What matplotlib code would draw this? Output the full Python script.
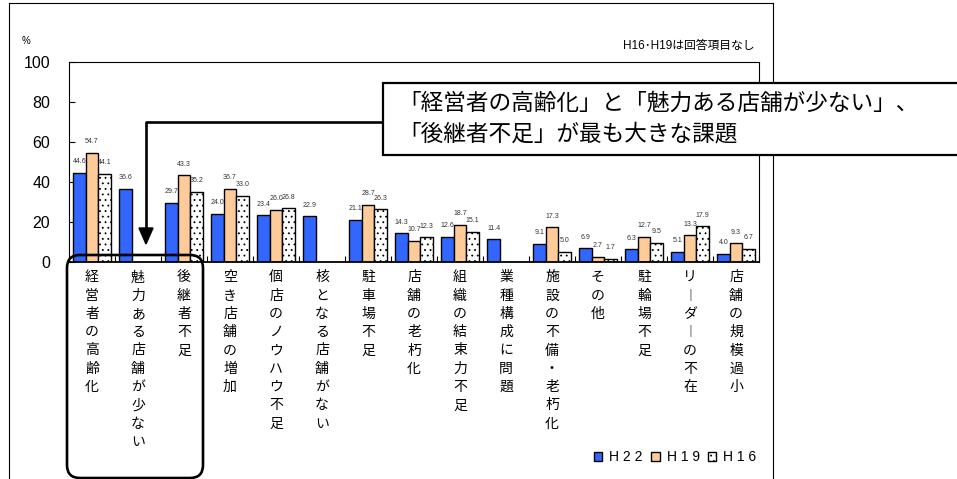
import numpy as np
import matplotlib
matplotlib.use("Agg")
import matplotlib.pyplot as plt
from matplotlib.patches import FancyBboxPatch, Rectangle, Polygon
from matplotlib.lines import Line2D
from matplotlib.transforms import IdentityTransform

plt.rcParams['font.family'] = ['Liberation Sans', 'Noto Sans CJK JP', 'DejaVu Sans']
plt.rcParams['hatch.linewidth'] = 0.6

categories = ["経営者の高齢化", "魅力ある店舗が少ない", "後継者不足", "空き店舗の増加",
              "個店のノウハウ不足", "核となる店舗がない", "駐車場不足", "店舗の老朽化",
              "組織の結束力不足", "業種構成に問題", "施設の不備・老朽化", "その他",
              "駐輪場不足", "リーダーの不在", "店舗の規模過小"]
h22 = [44.6, 36.6, 29.7, 24.0, 23.4, 22.9, 21.1, 14.3, 12.6, 11.4, 9.1, 6.9, 6.3, 5.1, 4.0]
h19 = [54.7, np.nan, 43.3, 36.7, 26.0, np.nan, 28.7, 10.7, 18.7, np.nan, 17.3, 2.7, 12.7, 13.3, 9.3]
h16 = [44.1, np.nan, 35.2, 33.0, 26.8, np.nan, 26.3, 12.3, 15.1, np.nan, 5.0, 1.7, 9.5, 17.9, 6.7]
series_labels = ["H 2 2", "H 1 9", "H 1 6"]
yticks = [0, 20, 40, 60, 80, 100]

W, H = 957, 479
fig = plt.figure(figsize=(W / 100, H / 100), dpi=100)

def fx(x):
    return x / W

def fy(y):
    return 1 - y / H

# plot area: x 69..759, y 62..262 (pixels from top)
ax = fig.add_axes([fx(69), fy(262), (759 - 69) / W, (262 - 62) / H])

x = np.arange(len(categories))
bw = 0.27
styles = [
    dict(color="#3366FF", hatch=None),
    dict(color="#FFCC99", hatch=None),
    dict(color="white", hatch="..."),
]
bars = []
for i, (vals, st, lab) in enumerate(zip([h22, h19, h16], styles, series_labels)):
    b = ax.bar(x + (i - 1) * bw, vals, width=bw, color=st["color"], edgecolor="black",
               hatch=st["hatch"], linewidth=1.0, label=lab, zorder=2)
    bars.append(b)
    for xi, v in zip(x + (i - 1) * bw, vals):
        if not np.isnan(v):
            ax.annotate(f"{v:.1f}", (xi, v), xytext=(0, 8), textcoords="offset points",
                        ha="center", va="center", fontsize=5, color="#333333")

ax.set_xlim(-0.5, len(categories) - 0.5)
ax.set_ylim(0, 100)
ax.set_yticks(yticks)
ax.set_yticklabels([str(t) for t in yticks])
ax.tick_params(axis="y", direction="in", length=4, width=0.8, labelsize=11.5, pad=13.5)

def vert(s):
    return "\n".join(ch if ch != "ー" else "\uFE31" for ch in s)

ax.set_xticks(x)
ax.set_xticklabels([vert(c) for c in categories], fontsize=10, linespacing=1.39, va="top")
ax.tick_params(axis="x", which="major", length=0, pad=6)
ax.set_xticks(np.arange(-0.5, len(categories), 1.0), minor=True)
ax.tick_params(axis="x", which="minor", direction="in", length=4, width=0.8)

for s in ["top", "right", "left"]:
    ax.spines[s].set_linewidth(0.8)
ax.spines["bottom"].set_linewidth(1.3)

# % label and note
fig.text(fx(22), fy(41), "%", fontsize=7, ha="left", va="center")
fig.text(fx(754), fy(46), "H16･H19は回答項目なし", fontsize=8.5, ha="right", va="center")

# legend
leg = ax.legend(handles=bars, labels=series_labels, loc="lower right", ncol=3,
                bbox_to_anchor=(fx(766), fy(474)), bbox_transform=fig.transFigure,
                frameon=False, handlelength=0.6, handleheight=0.6,
                handletextpad=0.5, columnspacing=0.6, borderpad=0.2,
                prop={"family": ["Liberation Sans Narrow", "Liberation Sans"], "size": 10})

ident = IdentityTransform()

def px(y):
    return H - y

# outer frame
for (x0, y0, x1, y1) in [(9, 3, 9, 480), (9, 3, 773, 3), (773, 3, 773, 480)]:
    fig.add_artist(Line2D([x0, x1], [px(y0), px(y1)], transform=ident, color="black", linewidth=0.8))

# rounded callout around first three labels
fig.add_artist(FancyBboxPatch((67, px(478)), 203 - 67, 478 - 255,
                              boxstyle="round,pad=0,rounding_size=13", transform=ident,
                              facecolor="none", edgecolor="black", linewidth=1.9, zorder=5))

# arrow
fig.add_artist(Line2D([384, 146, 146], [px(122), px(122), px(229)], transform=ident,
                      color="black", linewidth=1.9, zorder=5))
fig.add_artist(Polygon([[139, px(228)], [153, px(228)], [146, px(244)]], closed=True,
                       transform=ident, facecolor="black", edgecolor="black", zorder=5))

# annotation box
fig.add_artist(Rectangle((383, px(155)), 700, 155 - 83, transform=ident, facecolor="white",
                         edgecolor="black", linewidth=1.6, zorder=6))
fig.text(fx(398), fy(103), "「経営者の高齢化」と「魅力ある店舗が少ない」、", fontsize=16.3,
         ha="left", va="center", zorder=7)
fig.text(fx(398), fy(134), "「後継者不足」が最も大きな課題", fontsize=16.3,
         ha="left", va="center", zorder=7)

fig.savefig("out.png", dpi=100)
